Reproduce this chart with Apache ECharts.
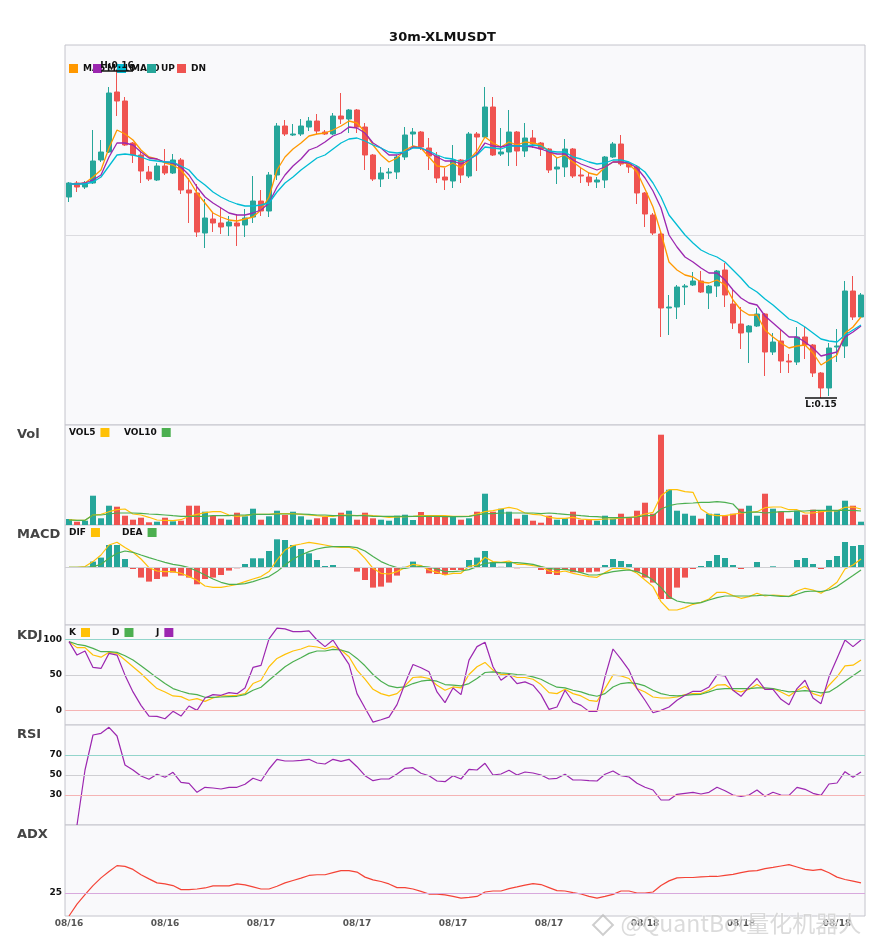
<!DOCTYPE html>
<html>
<head>
  <meta charset="UTF-8">
  <title>30m-XLMUSDT</title>
  <script src="https://cdn.jsdelivr.net/npm/echarts/dist/echarts.min.js"></script>
  <style>
    html, body { margin: 0; padding: 0; background: #fff; }
    #main { width: 885px; height: 950px; }
  </style>
</head>
<body>
<div id="main"></div>
<script type="text/javascript">
  // 30m candles, 08/16 12:00 -> 08/18 13:30
  var times = [];
  var t0 = Date.UTC(2023, 7, 16, 12, 0);
  for (var n = 0; n < 100; n++) {
    var d = new Date(t0 + n * 30 * 60000);
    var mm = ('0' + (d.getUTCMonth() + 1)).slice(-2), dd = ('0' + d.getUTCDate()).slice(-2);
    var hh = ('0' + d.getUTCHours()).slice(-2), mi = ('0' + d.getUTCMinutes()).slice(-2);
    times.push(mm + '/' + dd + ' ' + hh + ':' + mi);
  }

  var opens = [
    0.15712, 0.15768, 0.15752, 0.15768, 0.15860, 0.15892, 0.16132, 0.16096, 0.15928, 0.15880,
    0.15812, 0.15780, 0.15836, 0.15808, 0.15860, 0.15740, 0.15728, 0.15568, 0.15624, 0.15608,
    0.15596, 0.15608, 0.15600, 0.15632, 0.15696, 0.15656, 0.15800, 0.15996, 0.15960, 0.15964,
    0.15992, 0.16016, 0.15972, 0.15964, 0.16036, 0.16024, 0.16060, 0.15992, 0.15880, 0.15784,
    0.15808, 0.15812, 0.15872, 0.15964, 0.15972, 0.15908, 0.15876, 0.15792, 0.15776, 0.15860,
    0.15796, 0.15964, 0.15952, 0.16072, 0.15884, 0.15892, 0.15972, 0.15896, 0.15948, 0.15928,
    0.15904, 0.15824, 0.15832, 0.15904, 0.15800, 0.15792, 0.15772, 0.15780, 0.15872, 0.15924,
    0.15844, 0.15832, 0.15728, 0.15640, 0.15564, 0.15268, 0.15272, 0.15352, 0.15360, 0.15376,
    0.15328, 0.15356, 0.15420, 0.15284, 0.15204, 0.15172, 0.15196, 0.15244, 0.15092, 0.15136,
    0.15056, 0.15052, 0.15152, 0.15120, 0.15008, 0.14948, 0.15112, 0.15116, 0.15336, 0.15232
  ];
  var closes = [
    0.15768, 0.15752, 0.15768, 0.15856, 0.15892, 0.16128, 0.16096, 0.15920, 0.15880, 0.15816,
    0.15784, 0.15836, 0.15808, 0.15860, 0.15740, 0.15728, 0.15572, 0.15628, 0.15608, 0.15592,
    0.15612, 0.15596, 0.15628, 0.15696, 0.15656, 0.15800, 0.15996, 0.15964, 0.15964, 0.15996,
    0.16016, 0.15976, 0.15964, 0.16036, 0.16024, 0.16060, 0.15992, 0.15880, 0.15784, 0.15808,
    0.15812, 0.15872, 0.15960, 0.15972, 0.15912, 0.15876, 0.15788, 0.15780, 0.15860, 0.15800,
    0.15964, 0.15952, 0.16072, 0.15880, 0.15892, 0.15972, 0.15896, 0.15948, 0.15924, 0.15904,
    0.15820, 0.15832, 0.15904, 0.15796, 0.15796, 0.15772, 0.15780, 0.15872, 0.15924, 0.15844,
    0.15832, 0.15728, 0.15644, 0.15568, 0.15268, 0.15272, 0.15352, 0.15356, 0.15376, 0.15332,
    0.15356, 0.15416, 0.15320, 0.15208, 0.15168, 0.15196, 0.15244, 0.15092, 0.15132, 0.15056,
    0.15052, 0.15152, 0.15120, 0.15008, 0.14948, 0.15108, 0.15116, 0.15336, 0.15232, 0.15320
  ];
  var lows = [
    0.15692, 0.15732, 0.15744, 0.15764, 0.15852, 0.15888, 0.16036, 0.15916, 0.15848, 0.15768,
    0.15776, 0.15776, 0.15800, 0.15804, 0.15724, 0.15608, 0.15552, 0.15508, 0.15572, 0.15564,
    0.15556, 0.15516, 0.15552, 0.15608, 0.15636, 0.15632, 0.15780, 0.15956, 0.15956, 0.15956,
    0.15976, 0.15964, 0.15960, 0.15960, 0.16004, 0.15968, 0.15968, 0.15820, 0.15776, 0.15752,
    0.15784, 0.15784, 0.15860, 0.15916, 0.15900, 0.15820, 0.15768, 0.15740, 0.15748, 0.15768,
    0.15788, 0.15816, 0.15948, 0.15876, 0.15876, 0.15836, 0.15836, 0.15872, 0.15908, 0.15876,
    0.15808, 0.15764, 0.15792, 0.15788, 0.15768, 0.15756, 0.15748, 0.15748, 0.15868, 0.15836,
    0.15808, 0.15684, 0.15592, 0.15560, 0.15152, 0.15160, 0.15224, 0.15280, 0.15356, 0.15328,
    0.15264, 0.15312, 0.15272, 0.15184, 0.15104, 0.15048, 0.15192, 0.14996, 0.15080, 0.15008,
    0.15008, 0.15040, 0.15064, 0.14992, 0.14908, 0.14916, 0.15052, 0.15068, 0.15220, 0.15228
  ];
  var highs = [
    0.15772, 0.15776, 0.15776, 0.15980, 0.15940, 0.16152, 0.16216, 0.16112, 0.15932, 0.15892,
    0.15836, 0.15848, 0.15904, 0.15884, 0.15868, 0.15788, 0.15764, 0.15704, 0.15652, 0.15672,
    0.15636, 0.15644, 0.15664, 0.15796, 0.15740, 0.15812, 0.16008, 0.16020, 0.16004, 0.16024,
    0.16032, 0.16044, 0.15980, 0.16048, 0.16128, 0.16064, 0.16064, 0.16008, 0.15884, 0.15832,
    0.15828, 0.15880, 0.15992, 0.15988, 0.15976, 0.15948, 0.15892, 0.15828, 0.15920, 0.15864,
    0.15972, 0.15972, 0.16152, 0.16112, 0.15988, 0.16060, 0.15976, 0.16008, 0.15980, 0.15932,
    0.15908, 0.15872, 0.15944, 0.15908, 0.15832, 0.15812, 0.15792, 0.15876, 0.15932, 0.15960,
    0.15848, 0.15840, 0.15732, 0.15648, 0.15572, 0.15320, 0.15360, 0.15364, 0.15412, 0.15416,
    0.15360, 0.15420, 0.15448, 0.15340, 0.15272, 0.15200, 0.15268, 0.15248, 0.15168, 0.15180,
    0.15084, 0.15192, 0.15192, 0.15124, 0.15012, 0.15128, 0.15184, 0.15376, 0.15396, 0.15328
  ];

  var ma5 = [
    0.15764, 0.15764, 0.15768, 0.15792, 0.15820, 0.15908, 0.15980, 0.15964, 0.15940, 0.15900,
    0.15872, 0.15864, 0.15848, 0.15840, 0.15820, 0.15780, 0.15728, 0.15688, 0.15648, 0.15632,
    0.15620, 0.15616, 0.15624, 0.15632, 0.15660, 0.15712, 0.15820, 0.15872, 0.15904, 0.15928,
    0.15956, 0.15964, 0.15968, 0.15980, 0.15996, 0.16016, 0.16008, 0.15972, 0.15920, 0.15880,
    0.15852, 0.15868, 0.15900, 0.15916, 0.15908, 0.15872, 0.15836, 0.15832, 0.15848, 0.15828,
    0.15860, 0.15896, 0.15952, 0.15928, 0.15912, 0.15932, 0.15920, 0.15932, 0.15928, 0.15920,
    0.15896, 0.15868, 0.15880, 0.15852, 0.15828, 0.15808, 0.15800, 0.15832, 0.15852, 0.15852,
    0.15844, 0.15812, 0.15744, 0.15672, 0.15568, 0.15452, 0.15420, 0.15400, 0.15392, 0.15372,
    0.15368, 0.15380, 0.15360, 0.15300, 0.15260, 0.15240, 0.15240, 0.15180, 0.15152, 0.15128,
    0.15108, 0.15116, 0.15120, 0.15088, 0.15040, 0.15060, 0.15080, 0.15168, 0.15192, 0.15232
  ];
  var ma10 = [
    0.15764, 0.15764, 0.15768, 0.15780, 0.15800, 0.15872, 0.15928, 0.15928, 0.15920, 0.15892,
    0.15868, 0.15864, 0.15852, 0.15848, 0.15832, 0.15800, 0.15752, 0.15712, 0.15688, 0.15668,
    0.15648, 0.15640, 0.15640, 0.15648, 0.15660, 0.15688, 0.15752, 0.15800, 0.15836, 0.15864,
    0.15900, 0.15912, 0.15932, 0.15956, 0.15968, 0.15992, 0.15988, 0.15968, 0.15928, 0.15908,
    0.15880, 0.15880, 0.15892, 0.15912, 0.15908, 0.15892, 0.15872, 0.15856, 0.15856, 0.15844,
    0.15860, 0.15884, 0.15928, 0.15916, 0.15912, 0.15920, 0.15916, 0.15916, 0.15912, 0.15904,
    0.15892, 0.15884, 0.15884, 0.15860, 0.15844, 0.15832, 0.15820, 0.15832, 0.15852, 0.15852,
    0.15848, 0.15828, 0.15788, 0.15736, 0.15668, 0.15560, 0.15512, 0.15472, 0.15452, 0.15428,
    0.15408, 0.15408, 0.15380, 0.15340, 0.15308, 0.15288, 0.15280, 0.15236, 0.15208, 0.15180,
    0.15152, 0.15152, 0.15132, 0.15108, 0.15076, 0.15084, 0.15092, 0.15152, 0.15172, 0.15196
  ];
  var ma20 = [
    0.15764, 0.15764, 0.15764, 0.15772, 0.15792, 0.15836, 0.15880, 0.15884, 0.15880, 0.15872,
    0.15860, 0.15856, 0.15852, 0.15852, 0.15836, 0.15820, 0.15784, 0.15760, 0.15732, 0.15712,
    0.15696, 0.15684, 0.15676, 0.15676, 0.15680, 0.15688, 0.15732, 0.15768, 0.15792, 0.15820,
    0.15844, 0.15868, 0.15880, 0.15904, 0.15928, 0.15944, 0.15948, 0.15936, 0.15920, 0.15908,
    0.15892, 0.15888, 0.15892, 0.15908, 0.15908, 0.15896, 0.15880, 0.15868, 0.15864, 0.15852,
    0.15864, 0.15880, 0.15912, 0.15908, 0.15904, 0.15916, 0.15916, 0.15916, 0.15920, 0.15916,
    0.15896, 0.15892, 0.15892, 0.15872, 0.15864, 0.15852, 0.15844, 0.15848, 0.15860, 0.15860,
    0.15852, 0.15836, 0.15812, 0.15768, 0.15712, 0.15640, 0.15600, 0.15560, 0.15528, 0.15500,
    0.15484, 0.15472, 0.15452, 0.15420, 0.15388, 0.15352, 0.15332, 0.15304, 0.15280, 0.15252,
    0.15224, 0.15212, 0.15192, 0.15168, 0.15144, 0.15136, 0.15132, 0.15160, 0.15180, 0.15200
  ];

  // volume in thousand XLM
  var volumes = [
    120, 66, 86, 586, 134, 386, 366, 186, 106, 146,
    54, 66, 146, 74, 86, 386, 386, 266, 186, 126,
    106, 246, 174, 326, 106, 174, 286, 200, 266, 174,
    106, 134, 166, 134, 246, 286, 106, 246, 134, 106,
    86, 186, 206, 100, 260, 160, 160, 174, 174, 106,
    134, 266, 626, 266, 326, 266, 126, 206, 86, 46,
    186, 106, 134, 266, 106, 106, 86, 186, 126, 226,
    146, 286, 446, 226, 1806, 706, 286, 226, 186, 126,
    226, 226, 186, 226, 326, 386, 186, 626, 326, 266,
    126, 286, 206, 306, 286, 386, 286, 486, 386, 66
  ];
  var vol5 = [
    106, 94, 94, 200, 214, 266, 306, 320, 220, 200,
    154, 100, 94, 86, 106, 174, 214, 246, 266, 266,
    200, 174, 186, 214, 214, 214, 226, 226, 226, 214,
    200, 186, 174, 174, 200, 200, 186, 200, 186, 174,
    154, 160, 166, 174, 186, 186, 186, 186, 174, 174,
    174, 220, 266, 286, 320, 354, 320, 240, 214, 200,
    154, 134, 134, 154, 120, 106, 106, 120, 120, 140,
    146, 174, 220, 254, 586, 706, 706, 666, 654, 320,
    214, 186, 186, 214, 240, 254, 266, 346, 360, 360,
    306, 306, 240, 240, 266, 280, 280, 354, 360, 320
  ];
  var vol10 = [
    100, 94, 94, 200, 200, 220, 240, 240, 240, 234,
    220, 214, 200, 186, 174, 174, 174, 174, 186, 186,
    186, 200, 200, 214, 214, 214, 220, 220, 220, 220,
    214, 200, 200, 186, 186, 186, 186, 186, 174, 174,
    174, 174, 174, 174, 174, 174, 174, 166, 166, 166,
    174, 200, 226, 226, 240, 240, 240, 240, 240, 226,
    240, 226, 214, 200, 186, 174, 166, 154, 146, 146,
    154, 160, 186, 186, 320, 386, 420, 434, 440, 454,
    454, 466, 454, 420, 254, 254, 260, 240, 254, 266,
    266, 280, 280, 294, 294, 294, 294, 294, 294, 280
  ];

  // MACD values in units of 1e-5
  var dif = [
    0, 0, 0.7, 5.7, 12.3, 22.3, 25, 19.7, 15, 8.3,
    -0.3, -3.7, -4.3, -4.3, -6, -9.3, -13, -18.7, -20, -20,
    -18.7, -17, -14.3, -11.7, -9.3, -4.3, 7.3, 17.3, 21.7, 23.3,
    25, 23.7, 22.3, 20.7, 20, 20, 17.3, 9, -1, -6,
    -6.7, -4.3, -0.3, 3, 1.7, -2.7, -5, -7.7, -6, -6,
    1, 2.3, 10, 5.7, 5, 6.3, 3, 3, 1.7, 0.7,
    -3.7, -5, -3.7, -6, -7.7, -9.3, -10, -5.3, -1, -1,
    -2, -6, -12.7, -19.3, -34.3, -42.7, -42.7, -40.3, -37, -35,
    -31.7, -25, -25, -28.3, -31, -29.3, -26, -28.7, -27.7, -28.3,
    -29.3, -23.7, -21, -22.7, -26, -21, -15, -1.7, 2.3, 8.3
  ];
  var dea = [
    0, 0, 0, 0.7, 3, 9, 14, 16.3, 15, 12.3,
    9.7, 7.3, 5, 3, 1.7, -0.3, -3.7, -7.7, -11.7, -15,
    -17, -17, -16.3, -14.3, -11.7, -9.3, -4.3, 2.3, 8.3, 12.3,
    15.7, 18.3, 20, 20.7, 20.7, 20.7, 19.7, 16.3, 10.7, 5.7,
    2.3, -0.3, -1, 0.3, 1, 0.3, -1.7, -4.3, -4.3, -3.7,
    -2.3, 0.7, 4, 4.7, 4.7, 4.7, 4.7, 4, 3, 0.7,
    -1, -2, -2, -3.3, -5.3, -7.7, -7.7, -6, -4.3, -3.3,
    -2.7, -4.3, -7.7, -12.7, -20.3, -29.3, -33.7, -35.3, -36, -35.3,
    -32.7, -30.3, -28.7, -28.7, -28.7, -28.7, -28.3, -27.7, -28.3, -29,
    -29, -27, -24.3, -23.7, -24.3, -22.7, -19.3, -13.7, -8.3, -2.7
  ];
  var macdHist = [
    0, 0, 0.3, 5.7, 9.7, 22.3, 22.3, 8.3, -1.7, -10.3,
    -14.3, -11.7, -9.3, -5.3, -8.3, -10.3, -17, -11.7, -10.3, -7.7,
    -3.3, -1, 3.3, 9, 9, 16.3, 28, 27.3, 22.3, 18.3,
    14, 7.3, 1.3, 2.3, -0.5, -0.5, -4.3, -12.7, -20.3, -19.3,
    -15.3, -8.3, 0.5, 5.7, 1, -6, -6.7, -7.7, -2.7, -2.7,
    7.3, 9.7, 16.3, 5, 0.5, 5, -1, 0.3, -0.3, -2.7,
    -6.7, -7.7, -2.7, -5, -5, -5, -4.3, 2.3, 8.3, 6.3,
    3.3, -4.3, -10.3, -15.3, -31.7, -31.7, -20.3, -10.3, -1.7, 1.3,
    6.3, 12.3, 9.3, 2.3, -1.7, 0.3, 5.3, -0.7, 1, -0.7,
    -0.7, 7.3, 9.3, 3.3, -1.7, 7.3, 11.3, 25.3, 21.3, 22.3
  ];

  var kValues = [
    96.7, 88.3, 88.3, 78, 75, 81.7, 80.3, 70.9, 61.5, 52.1,
    41.3, 31, 26.3, 20.7, 19.7, 14.6, 16.9, 13.1, 17.8, 20.7,
    20.7, 21.6, 23.9, 38, 42.7, 61.5, 73.2, 78.9, 83.6, 86.4,
    90.6, 89.2, 86.4, 90.1, 85, 75.6, 56.8, 44.1, 30, 23.9,
    20.7, 23.9, 34.7, 46.5, 47.4, 45.1, 35.7, 28.6, 33.3, 31.9,
    50.7, 61.5, 67.6, 56.8, 50.7, 50.7, 46.5, 46.5, 44.1, 36.6,
    25.4, 23.9, 30, 23.9, 20.7, 14.6, 13.1, 31, 49.8, 48.8,
    45.1, 31, 26.3, 19.2, 17.8, 17.8, 19.2, 22.5, 23.9, 23.9,
    28.6, 35.7, 36.6, 28.6, 26.3, 30, 36.6, 30, 31, 26.3,
    20.7, 28.6, 34.3, 23.9, 20.2, 35.7, 47.4, 62.9, 63.8, 70.9
  ];
  var dValues = [
    96.7, 93, 91.1, 87.3, 82.6, 82.6, 81.7, 77, 70.9, 62.9,
    54.5, 46, 38, 31, 27.2, 23.9, 22.5, 18.8, 18.8, 19.2,
    19.7, 20.2, 22.5, 28.6, 32.9, 42.7, 52.1, 61.5, 68.5, 74.2,
    80.3, 83.6, 83.6, 85.9, 85, 81.7, 73.2, 62.9, 50.7, 41.3,
    34.7, 32.4, 33.3, 38, 41.3, 42.7, 41.3, 36.6, 35.7, 34.7,
    38, 45.1, 53.5, 54.5, 53.1, 52.1, 50.7, 49.8, 47.4, 44.1,
    38, 32.9, 31.9, 28.6, 26.3, 22.5, 20.2, 23.9, 33.3, 38,
    39.4, 38, 34.7, 28.6, 23.9, 21.6, 20.7, 21.6, 22.5, 23,
    26.3, 30, 31, 31, 31, 31, 31.9, 31.9, 31, 28.6,
    26.3, 27.2, 28.2, 27.2, 24.9, 26.3, 33.3, 41.3, 48.8, 56.8
  ];
  var jValues = [
    96.7, 77.9, 83.6, 60.6, 59.2, 80.3, 77.9, 49.8, 26.3, 7.5,
    -7.5, -8, -11.3, -0.9, -7.5, 6.6, 0.5, 17.8, 22.5, 21.6,
    25.4, 23.9, 31.9, 60.6, 63.4, 100.5, 115.5, 114.6, 110.8, 110.8,
    111.7, 99, 89.7, 99, 81.7, 64.8, 23.9, 3.8, -16, -12.7,
    -8.9, 8.5, 38, 64.8, 60.1, 54.5, 26.3, 11.3, 31.9, 22.5,
    70.9, 89.7, 95.8, 61.5, 42.7, 50.7, 38, 40.4, 35.7, 22.5,
    1.9, 5.2, 28.6, 12.2, 7.5, -0.9, -0.9, 47.4, 86.4, 72.3,
    56.8, 31, 14.6, -2.8, 0.5, 5.2, 14.6, 21.6, 27.2, 27.2,
    33.3, 49.8, 48.8, 28.6, 20.2, 33.3, 45.1, 30, 30, 16,
    8.5, 31, 42.7, 17.8, 9.9, 47.4, 73.2, 99.1, 89.7, 99.1
  ];

  // first RSI point not drawn
  var rsi = [
    null, 0, 55, 90, 91.7, 97.7, 89, 60, 55, 49,
    45.7, 50.7, 47.7, 52.7, 42.7, 41.7, 32.7, 37.7, 37, 36,
    37.7, 37.7, 40.7, 46.7, 44, 56, 65.7, 64, 64, 64.7,
    65.7, 62, 61, 65.7, 63.7, 65.7, 58.3, 49.3, 44.3, 46,
    46, 51, 56.7, 57.3, 51.7, 49.3, 44, 43.3, 49.3, 46,
    55.7, 55, 61.7, 50, 51, 54.7, 50, 53, 52, 50,
    46, 46.7, 50.7, 45, 45, 44.3, 44, 50.7, 54, 49.3,
    48, 41.7, 37.7, 35, 25, 25, 30.7, 31.7, 32.7, 31,
    32.7, 37.7, 34.3, 30, 28.7, 30, 35, 28.7, 32.7, 30,
    29.7, 37.7, 35.7, 31.7, 29.7, 41, 42, 53.3, 47.7, 53
  ];
  var adx = [
    0, 12.9, 23.2, 33.1, 41.5, 48.5, 54.8, 54, 50.7, 44.9,
    40.4, 36, 34.9, 33.1, 28.7, 28.7, 29.4, 30.5, 32.7, 32.7,
    32.7, 34.9, 33.8, 31.6, 29.4, 29.4, 32.4, 36, 38.6, 41.2,
    44.1, 44.9, 44.9, 47.1, 49.3, 49.3, 47.8, 42.3, 39.3, 37.5,
    34.9, 30.9, 30.9, 29.4, 26.8, 23.9, 23.9, 23, 21.3, 19.5,
    20.2, 21.3, 26.1, 27.2, 27.2, 29.8, 31.6, 33.5, 35.3, 34.2,
    30.9, 27.6, 27.2, 25.4, 23.9, 21.3, 19.5, 21.3, 23.5, 27.2,
    27.2, 25, 25, 26.1, 33.1, 38.2, 41.5, 41.9, 41.9, 42.6,
    43, 43, 44.1, 45.2, 47.1, 48.9, 49.3, 51.5, 52.9, 54.4,
    55.9, 53.3, 50.7, 49.6, 50.7, 47.1, 42.3, 39.7, 37.9, 36
  ];

  var UP = '#26a69a', DN = '#ef5350';
  var FONT = '"DejaVu Sans", sans-serif';

  var candles = opens.map(function (o, i) { return [o, closes[i], lows[i], highs[i]]; });
  var hiIdx = highs.indexOf(Math.max.apply(null, highs));
  var loIdx = lows.indexOf(Math.min.apply(null, lows));
  var volData = volumes.map(function (v, i) {
    return { value: v, itemStyle: { color: closes[i] >= opens[i] ? UP : DN } };
  });
  var histData = macdHist.map(function (v) {
    return { value: v, itemStyle: { color: v >= 0 ? UP : DN } };
  });

  var tops = [45, 425, 525, 625, 725, 825];
  var heights = [380, 100, 100, 100, 100, 91];
  var grids = [], xAxes = [];
  for (var g = 0; g < 6; g++) {
    grids.push({
      left: 65, right: 20, top: tops[g], height: heights[g],
      show: true, backgroundColor: '#f9f9fb', borderColor: '#c4c4cc', borderWidth: 1,
      outerBoundsMode: 'none'
    });
    xAxes.push({
      type: 'category', gridIndex: g, data: times, boundaryGap: true,
      axisLine: { show: false }, axisTick: { show: false }, splitLine: { show: false },
      axisLabel: {
        show: g === 5, interval: 11, margin: 3, color: '#555', fontSize: 9, fontWeight: 'bold',
        fontFamily: FONT,
        formatter: function (v) { return v.slice(0, 5); }
      }
    });
  }

  function yAxis(g, min, max) {
    return { type: 'value', gridIndex: g, min: min, max: max, show: false };
  }

  function line(name, data, color, g, width) {
    return {
      name: name, type: 'line', xAxisIndex: g, yAxisIndex: g, data: data,
      symbol: 'none', color: color, lineStyle: { width: width || 1.2, color: color }, z: 3
    };
  }

  // horizontal level lines, labelled on the left like axis ticks
  function levels(items) {
    return {
      silent: true, symbol: ['none', 'none'], precision: 6,
      label: { position: 'start', distance: 3, color: '#111', fontSize: 9, fontWeight: 'bold', fontFamily: FONT },
      data: items.map(function (it) {
        return { yAxis: it[0], lineStyle: { color: it[1], type: 'solid', width: 1 }, label: { show: it[2] !== false } };
      })
    };
  }

  function legendItem(name, left, top, align) {
    return {
      data: [name], left: left, top: top, align: align || 'left', padding: 0,
      itemWidth: 9, itemHeight: 9, itemGap: 0, icon: 'rect', selectedMode: false,
      textStyle: { fontSize: 9, fontWeight: 'bold', color: '#111', fontFamily: FONT }
    };
  }

  function panelTitle(text, top) {
    return { type: 'text', left: 17, top: top, style: { text: text, font: 'bold 13px ' + FONT, fill: '#444' } };
  }

  var candleSeries = {
    name: 'XLMUSDT', type: 'candlestick', xAxisIndex: 0, yAxisIndex: 0, data: candles,
    barWidth: 6, z: 2,
    itemStyle: { color: UP, color0: DN, borderColor: UP, borderColor0: DN, borderWidth: 1 },
    markLine: {
      silent: true, symbol: ['none', 'none'],
      data: [
        [
          { coord: [hiIdx - 2, highs[hiIdx]], lineStyle: { color: '#111', type: 'solid', width: 1.5 },
            label: { show: true, position: 'insideMiddleTop', distance: 1, formatter: 'H:' + highs[hiIdx].toFixed(2),
              color: '#111', fontSize: 9, fontWeight: 'bold', fontFamily: FONT } },
          { coord: [hiIdx + 2, highs[hiIdx]] }
        ],
        [
          { coord: [loIdx - 2, lows[loIdx]], lineStyle: { color: '#111', type: 'solid', width: 1.5 },
            label: { show: true, position: 'insideMiddleBottom', distance: 2, formatter: 'L:' + lows[loIdx].toFixed(2),
              color: '#111', fontSize: 9, fontWeight: 'bold', fontFamily: FONT } },
          { coord: [loIdx + 2, lows[loIdx]] }
        ]
      ]
    }
  };

  // middle guide line of the price pane
  var ma20Series = line('MA20', ma20, '#00bcd4', 0, 1.3);
  ma20Series.markLine = levels([[0.1556, '#dcdce0', false]]);
  ma20Series.markLine.z = 1;

  var kSeries = line('K', kValues, '#ffc107', 3);
  kSeries.markLine = levels([[100, '#93d5cb'], [50, '#cfcfd3'], [0, '#f5b4b4']]);
  var rsiSeries = line('RSI', rsi, '#9c27b0', 4);
  rsiSeries.markLine = levels([[70, '#93d5cb'], [50, '#cfcfd3'], [30, '#f5b4b4']]);
  var adxSeries = line('ADX', adx, '#f44336', 5);
  adxSeries.markLine = levels([[25, '#d8a9dd']]);
  var histSeries = {
    name: 'MACD', type: 'bar', xAxisIndex: 2, yAxisIndex: 2, data: histData, barWidth: 6,
    markLine: levels([[0, '#cfcfd3', false]])
  };

  option = {
    animation: false,
    backgroundColor: '#ffffff',
    textStyle: { fontFamily: FONT },
    title: {
      text: '30m-XLMUSDT', left: 'center', top: 26,
      textStyle: { fontSize: 13, fontWeight: 'bold', color: '#111', fontFamily: FONT }
    },
    legend: [
      legendItem('MA5', 69, 64), legendItem('MA10', 93, 64), legendItem('MA20', 117, 64),
      legendItem('UP', 147, 64), legendItem('DN', 177, 64),
      legendItem('VOL5', 69, 428, 'right'), legendItem('VOL10', 124, 428, 'right'),
      legendItem('DIF', 69, 528, 'right'), legendItem('DEA', 122, 528, 'right'),
      legendItem('K', 69, 628, 'right'), legendItem('D', 112, 628, 'right'), legendItem('J', 156, 628, 'right')
    ],
    grid: grids,
    xAxis: xAxes,
    yAxis: [
      yAxis(0, 0.1480, 0.1632),
      yAxis(1, 0, 2000),
      yAxis(2, -57.7, 42.3),
      yAxis(3, -20, 120),
      yAxis(4, 0, 100),
      yAxis(5, 0, 99)
    ],
    graphic: [
      panelTitle('Vol', 428), panelTitle('MACD', 528), panelTitle('KDJ', 629),
      panelTitle('RSI', 728), panelTitle('ADX', 828),
      {
        type: 'rect', x: 603, y: 925, rotation: Math.PI / 4, z: 100,
        shape: { x: -7, y: -7, width: 14, height: 14 },
        style: { fill: 'none', stroke: 'rgba(185,185,185,0.7)', lineWidth: 2 }
      },
      {
        type: 'text', left: 620, top: 911, z: 100,
        style: {
          text: '@QuantBot量化机器人', font: '23px "Noto Sans CJK SC", sans-serif',
          fill: 'rgba(200,200,200,0.65)', stroke: 'rgba(255,255,255,0.7)', lineWidth: 1
        }
      }
    ],
    series: [
      candleSeries,
      line('MA5', ma5, '#ff9800', 0, 1.3),
      line('MA10', ma10, '#9c27b0', 0, 1.3),
      ma20Series,
      { name: 'UP', type: 'line', xAxisIndex: 0, yAxisIndex: 0, data: [], color: UP },
      { name: 'DN', type: 'line', xAxisIndex: 0, yAxisIndex: 0, data: [], color: DN },
      { name: 'Volume', type: 'bar', xAxisIndex: 1, yAxisIndex: 1, data: volData, barWidth: 6 },
      line('VOL5', vol5, '#ffc107', 1),
      line('VOL10', vol10, '#4caf50', 1),
      histSeries,
      line('DIF', dif, '#ffc107', 2),
      line('DEA', dea, '#4caf50', 2),
      kSeries,
      line('D', dValues, '#4caf50', 3),
      line('J', jValues, '#9c27b0', 3),
      rsiSeries,
      adxSeries
    ]
  };

  var myChart = echarts.init(document.getElementById('main'));
  myChart.setOption(option);
</script>
</body>
</html>
